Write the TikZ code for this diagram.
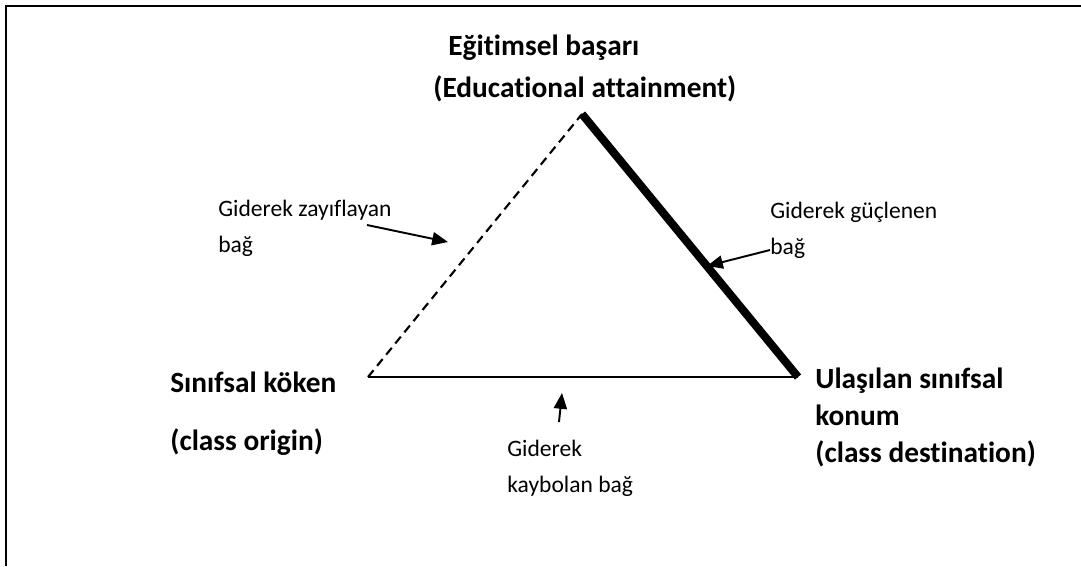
\documentclass[tikz,border=0pt]{standalone}
\usepackage{fontspec}
\setmainfont{Carlito}[Ligatures=NoCommon]
\usetikzlibrary{arrows.meta,positioning}
\tikzset{
  frame/.style={line width=1.2pt},
  lbl/.style={inner sep=0pt,anchor=base west,align=left,
              font=\bfseries\fontsize{16.7}{21}\selectfont},
  note/.style={inner sep=0pt,anchor=base west,align=left,
              font=\fontsize{13.4}{20}\selectfont},
  weak/.style={dash pattern=on 5pt off 3.2pt,line width=1.2pt},
  strong/.style={line width=4.6pt},
  lost/.style={line width=0.8pt},
  pointer/.style={-{Triangle[length=9pt,width=7.5pt]},line width=1.1pt},
}

\begin{document}
\begin{tikzpicture}[x=0.02cm,y=-0.02cm]
  \useasboundingbox (0,0) rectangle (1081,566);
  \draw[frame] (6,566) -- (6,6) -- (1081,6);
  % corners of the triangle
  \coordinate (origin) at (368,377);
  \coordinate (attain) at (582,114);
  \coordinate (dest) at (798,377);
  \draw[weak] (origin) -- (attain);
  \draw[strong] (attain) -- (dest);
  \draw[lost] (origin) -- (dest);
  % corner labels (base = last line)
  \node[lbl](attainTR) at (448,55){Eğitimsel başarı};
  \node[lbl](attainEN) at (433,97){(Educational attainment)};
  \node[lbl](originL) at (170,450){Sınıfsal köken\\[12pt](class origin)};
  \node[lbl](destL) at (815,462){Ulaşılan sınıfsal\\konum\\(class destination)};
  % edge notes and their arrows
  \node[note](weakN) at (218,252){Giderek zayıflayan\\bağ};
  \node[note](strongN) at (770,254){Giderek güçlenen\\bağ};
  \node[note](lostN) at (507,492){Giderek\\kaybolan bağ};
  \coordinate (weakT) at (367,225);\coordinate (weakH) at (448,242);
  \coordinate (strongT) at (770,250);\coordinate (strongH) at (707,266);
  \coordinate (lostT) at (559,422);\coordinate (lostH) at (562,393);
  \draw[pointer] (weakT) -- (weakH);
  \draw[pointer] (strongT) -- (strongH);
  \draw[pointer] (lostT) -- (lostH);
\end{tikzpicture}
\end{document}
